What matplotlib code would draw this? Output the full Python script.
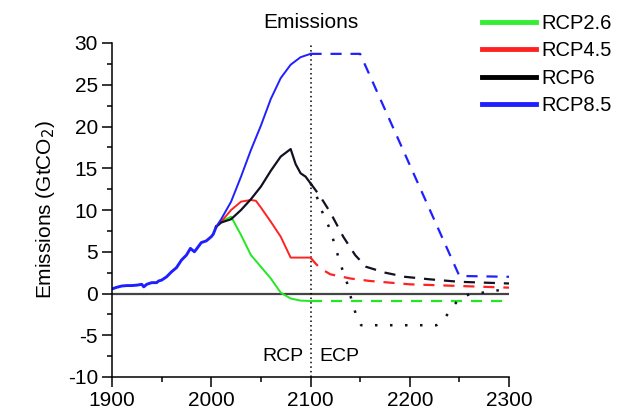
import numpy as np
import matplotlib
matplotlib.use('Agg')
import matplotlib.pyplot as plt
from matplotlib.lines import Line2D
from matplotlib.ticker import MultipleLocator

plt.rcParams['font.family'] = ['Liberation Sans', 'DejaVu Sans']
plt.rcParams['axes.unicode_minus'] = False

# historical emissions (GtCO2)
hist_years = [1900, 1905, 1910, 1915, 1920, 1925, 1930, 1932, 1935, 1940, 1945, 1947, 1950,
              1955, 1960, 1965, 1970, 1975, 1979, 1981, 1983, 1985, 1990, 1995, 2000, 2002, 2005]
hist_vals = [0.55, 0.75, 0.9, 0.95, 0.95, 1.0, 1.1, 0.8, 1.1, 1.3, 1.3, 1.5, 1.6,
             2.0, 2.6, 3.1, 4.0, 4.6, 5.4, 5.2, 5.0, 5.3, 6.1, 6.3, 6.8, 7.1, 8.0]

# RCP scenarios 2005-2100
rcp26_years = [2005, 2010, 2020, 2030, 2040, 2050, 2060, 2070, 2080, 2090, 2100]
rcp26_vals = [8.0, 8.6, 9.2, 7.0, 4.6, 3.2, 1.8, 0.1, -0.6, -0.85, -0.9]

rcp45_years = [2005, 2010, 2020, 2030, 2040, 2045, 2050, 2060, 2070, 2080, 2090, 2100]
rcp45_vals = [8.0, 8.6, 10.0, 11.0, 11.2, 11.1, 10.3, 8.6, 6.8, 4.3, 4.3, 4.3]

rcp6_years = [2005, 2010, 2020, 2030, 2040, 2050, 2060, 2070, 2080, 2085, 2090, 2095, 2100]
rcp6_vals = [8.0, 8.5, 8.9, 10.0, 11.3, 12.8, 14.7, 16.4, 17.3, 15.5, 14.4, 14.0, 13.2]

rcp85_years = [2005, 2010, 2020, 2030, 2040, 2050, 2060, 2070, 2080, 2090, 2100]
rcp85_vals = [8.0, 8.9, 11.0, 14.0, 17.2, 20.1, 23.3, 25.8, 27.4, 28.3, 28.7]

# ECP extensions 2100-2300
ecp26_years = [2100, 2300]
ecp26_vals = [-0.9, -0.9]

ecp45_years = [2100, 2105, 2110, 2120, 2140, 2160, 2180, 2200, 2250, 2300]
ecp45_vals = [4.3, 3.6, 3.0, 2.3, 1.8, 1.5, 1.3, 1.1, 0.9, 0.7]

ecp6_years = [2100, 2105, 2111, 2120, 2133, 2145, 2156, 2175, 2195, 2220, 2250, 2300]
ecp6_vals = [13.2, 12.4, 11.4, 9.7, 6.8, 4.6, 3.2, 2.5, 2.0, 1.7, 1.4, 1.2]

ecp6alt_years = [2100, 2104, 2111, 2120, 2130, 2137, 2140, 2146, 2151, 2227, 2235, 2242,
                 2250, 2260, 2280, 2300]
ecp6alt_vals = [13.2, 12.4, 10.0, 7.6, 3.6, 1.2, -0.2, -2.6, -3.8, -3.8, -3.0, -1.8,
                -0.6, -0.1, 0.2, 0.6]

ecp85_years = [2100, 2150, 2250, 2300]
ecp85_vals = [28.7, 28.7, 2.1, 2.0]

green = '#22e822'
red = '#ff2222'
black = '#111122'
blue = '#2020ff'

fig = plt.figure(figsize=(6.24, 4.09), dpi=100)
ax = fig.add_axes([112 / 624, 1 - 377 / 409, 397 / 624, 334 / 409])

ax.axhline(0, color='#444444', lw=1.6, zorder=1)
ax.axvline(2100, color='black', lw=1.1, ls=(0, (1, 2)), zorder=1)

ax.plot(hist_years, hist_vals, color=blue, lw=2.1)
ax.plot(rcp26_years, rcp26_vals, color=green, lw=1.4)
ax.plot(rcp45_years, rcp45_vals, color=red, lw=1.4)
ax.plot(rcp6_years, rcp6_vals, color=black, lw=1.6)
ax.plot(rcp85_years, rcp85_vals, color=blue, lw=1.4)

dash = (0, (5, 4))
ax.plot(ecp26_years, ecp26_vals, color=green, lw=1.6, ls=dash)
ax.plot(ecp45_years, ecp45_vals, color=red, lw=1.6, ls=dash)
ax.plot(ecp6_years, ecp6_vals, color=black, lw=1.6, ls=dash)
ax.plot(ecp6alt_years, ecp6alt_vals, color=black, lw=1.8, ls=(0, (1, 5)))
ax.plot(ecp85_years, ecp85_vals, color=blue, lw=1.6, ls=dash)

ax.set_xlim(1900, 2300)
ax.set_ylim(-10, 30)
ax.xaxis.set_major_locator(MultipleLocator(100))
ax.xaxis.set_minor_locator(MultipleLocator(50))
ax.yaxis.set_major_locator(MultipleLocator(5))
ax.yaxis.set_minor_locator(MultipleLocator(2.5))
ax.tick_params(which='major', length=7, width=1.1, labelsize=15, direction='out', pad=3)
ax.tick_params(which='minor', length=3.5, width=1.1, direction='out')
for s in ['top', 'right']:
    ax.spines[s].set_visible(False)
for s in ['left', 'bottom']:
    ax.spines[s].set_linewidth(1.1)

ax.set_title('Emissions', fontsize=15, pad=11)
ax.set_ylabel('Emissions (GtCO$_2$)', fontsize=15, labelpad=8)

ax.text(2093, -7.6, 'RCP', fontsize=14, ha='right', va='center')
ax.text(2109, -7.6, 'ECP', fontsize=14, ha='left', va='center')

handles = [Line2D([], [], color=c, lw=3.5) for c in ['#33ee33', red, 'black', blue]]
fig.legend(handles, ['RCP2.6', 'RCP4.5', 'RCP6', 'RCP8.5'], loc='upper left',
           bbox_to_anchor=(482 / 624, 1 - 14 / 409), frameon=False, fontsize=14.5,
           handlelength=2.7, handletextpad=0.25, labelspacing=0.42, borderpad=0,
           borderaxespad=0)

fig.savefig('out.png', dpi=100)
